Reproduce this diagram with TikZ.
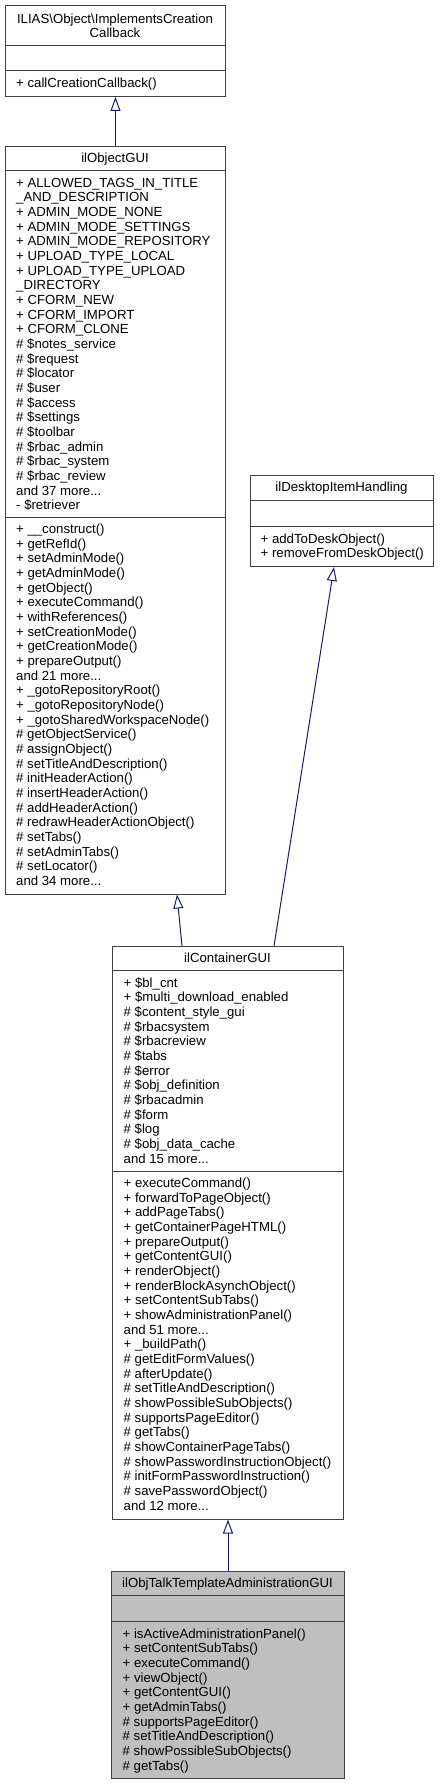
\documentclass[tikz,border=0pt]{standalone}
\usepackage{fontspec}
\setmainfont{Liberation Sans}
\usetikzlibrary{arrows.meta,calc}
\definecolor{boxline}{HTML}{404040}
\definecolor{edgeblue}{HTML}{191970}
\definecolor{hilite}{HTML}{BFBFBF}
\newcommand\dxfont{\fontsize{13.2}{14.67}\selectfont}
\newcommand\dxstrut{\rule{0pt}{11pt}}
\tikzset{
  box/.style={draw=boxline, line width=1pt, fill=white, anchor=north west, inner sep=0pt},
  sepline/.style={draw=boxline, line width=1pt},
  txt/.style={anchor=north west, inner sep=0pt, align=left, font=\dxfont},
  ttl/.style={anchor=north, inner sep=0pt, align=center, font=\dxfont},
  inh/.style={draw=edgeblue, line width=1pt, -{Triangle[open, length=14pt, width=10pt, fill=white]}}
}
\begin{document}
\begin{tikzpicture}[x=1pt, y=-1pt]
\useasboundingbox (0,0) rectangle (439,1784);

% ILIAS\Object\ImplementsCreationCallback
\node[box, minimum width=220pt, minimum height=91pt] (cbk) at (5,5) {};
\draw[sepline] (5,46) -- (225,46);
\draw[sepline] (5,71) -- (225,71);
\node[ttl] (cbk-t) at (115,11.9) {\dxstrut ILIAS\textbackslash Object\textbackslash ImplementsCreation\\Callback};
\node[txt] (cbk-m) at (16,76.5) {\dxstrut + callCreationCallback()};

% ilObjectGUI
\node[box, minimum width=220pt, minimum height=747.5pt] (objgui) at (5,146) {};
\draw[sepline] (5,170.5) -- (225,170.5);
\draw[sepline] (5,517) -- (225,517);
\node[ttl] (objgui-t) at (115,151.5) {\dxstrut ilObjectGUI};
\node[txt] (objgui-a) at (16,175.8) {\dxstrut + ALLOWED\_TAGS\_IN\_TITLE\\
\_AND\_DESCRIPTION\\
+ ADMIN\_MODE\_NONE\\
+ ADMIN\_MODE\_SETTINGS\\
+ ADMIN\_MODE\_REPOSITORY\\
+ UPLOAD\_TYPE\_LOCAL\\
+ UPLOAD\_TYPE\_UPLOAD\\
\_DIRECTORY\\
+ CFORM\_NEW\\
+ CFORM\_IMPORT\\
+ CFORM\_CLONE\\
\# \$notes\_service\\
\# \$request\\
\# \$locator\\
\# \$user\\
\# \$access\\
\# \$settings\\
\# \$toolbar\\
\# \$rbac\_admin\\
\# \$rbac\_system\\
\# \$rbac\_review\\
and 37 more...\\
- \$retriever};
\node[txt] (objgui-m) at (16,522.3) {\dxstrut + \_\_construct()\\
+ getRefId()\\
+ setAdminMode()\\
+ getAdminMode()\\
+ getObject()\\
+ executeCommand()\\
+ withReferences()\\
+ setCreationMode()\\
+ getCreationMode()\\
+ prepareOutput()\\
and 21 more...\\
+ \_gotoRepositoryRoot()\\
+ \_gotoRepositoryNode()\\
+ \_gotoSharedWorkspaceNode()\\
\# getObjectService()\\
\# assignObject()\\
\# setTitleAndDescription()\\
\# initHeaderAction()\\
\# insertHeaderAction()\\
\# addHeaderAction()\\
\# redrawHeaderActionObject()\\
\# setTabs()\\
\# setAdminTabs()\\
\# setLocator()\\
and 34 more...};

% ilDesktopItemHandling
\node[box, minimum width=183pt, minimum height=91pt] (desk) at (250,475) {};
\draw[sepline] (250,500.5) -- (433,500.5);
\draw[sepline] (250,526.5) -- (433,526.5);
\node[ttl] (desk-t) at (341.5,480.3) {\dxstrut ilDesktopItemHandling};
\node[txt] (desk-m) at (260.5,531.8) {\dxstrut + addToDeskObject()\\
+ removeFromDeskObject()};

% ilContainerGUI
\node[box, minimum width=231pt, minimum height=572.5pt] (cont) at (112,946) {};
\draw[sepline] (112,970.5) -- (343,970.5);
\draw[sepline] (112,1171) -- (343,1171);
\node[ttl] (cont-t) at (227.5,951.3) {\dxstrut ilContainerGUI};
\node[txt] (cont-a) at (123.5,975.8) {\dxstrut + \$bl\_cnt\\
+ \$multi\_download\_enabled\\
\# \$content\_style\_gui\\
\# \$rbacsystem\\
\# \$rbacreview\\
\# \$tabs\\
\# \$error\\
\# \$obj\_definition\\
\# \$rbacadmin\\
\# \$form\\
\# \$log\\
\# \$obj\_data\_cache\\
and 15 more...};
\node[txt] (cont-m) at (123.5,1176.3) {\dxstrut + executeCommand()\\
+ forwardToPageObject()\\
+ addPageTabs()\\
+ getContainerPageHTML()\\
+ prepareOutput()\\
+ getContentGUI()\\
+ renderObject()\\
+ renderBlockAsynchObject()\\
+ setContentSubTabs()\\
+ showAdministrationPanel()\\
and 51 more...\\
+ \_buildPath()\\
\# getEditFormValues()\\
\# afterUpdate()\\
\# setTitleAndDescription()\\
\# showPossibleSubObjects()\\
\# supportsPageEditor()\\
\# getTabs()\\
\# showContainerPageTabs()\\
\# showPasswordInstructionObject()\\
\# initFormPasswordInstruction()\\
\# savePasswordObject()\\
and 12 more...};

% ilObjTalkTemplateAdministrationGUI
\node[box, fill=hilite, minimum width=233pt, minimum height=206.5pt] (talk) at (111,1571) {};
\draw[sepline] (111,1595.5) -- (344,1595.5);
\draw[sepline] (111,1621.5) -- (344,1621.5);
\node[ttl] (talk-t) at (227.5,1576.3) {\dxstrut ilObjTalkTemplateAdministrationGUI};
\node[txt] (talk-m) at (122.5,1626.8) {\dxstrut + isActiveAdministrationPanel()\\
+ setContentSubTabs()\\
+ executeCommand()\\
+ viewObject()\\
+ getContentGUI()\\
+ getAdminTabs()\\
\# supportsPageEditor()\\
\# setTitleAndDescription()\\
\# showPossibleSubObjects()\\
\# getTabs()};

% inheritance connectors
\draw[inh] (objgui.north) -- (cbk.south);
\draw[inh] ($(cont.north west)+(70,0)$) -- ($(objgui.south west)+(172,0)$);
\draw[inh] ($(cont.north west)+(162,0)$) -- ($(desk.south west)+(84,0)$);
\draw[inh] (talk.north) -- (cont.south);
\end{tikzpicture}
\end{document}
